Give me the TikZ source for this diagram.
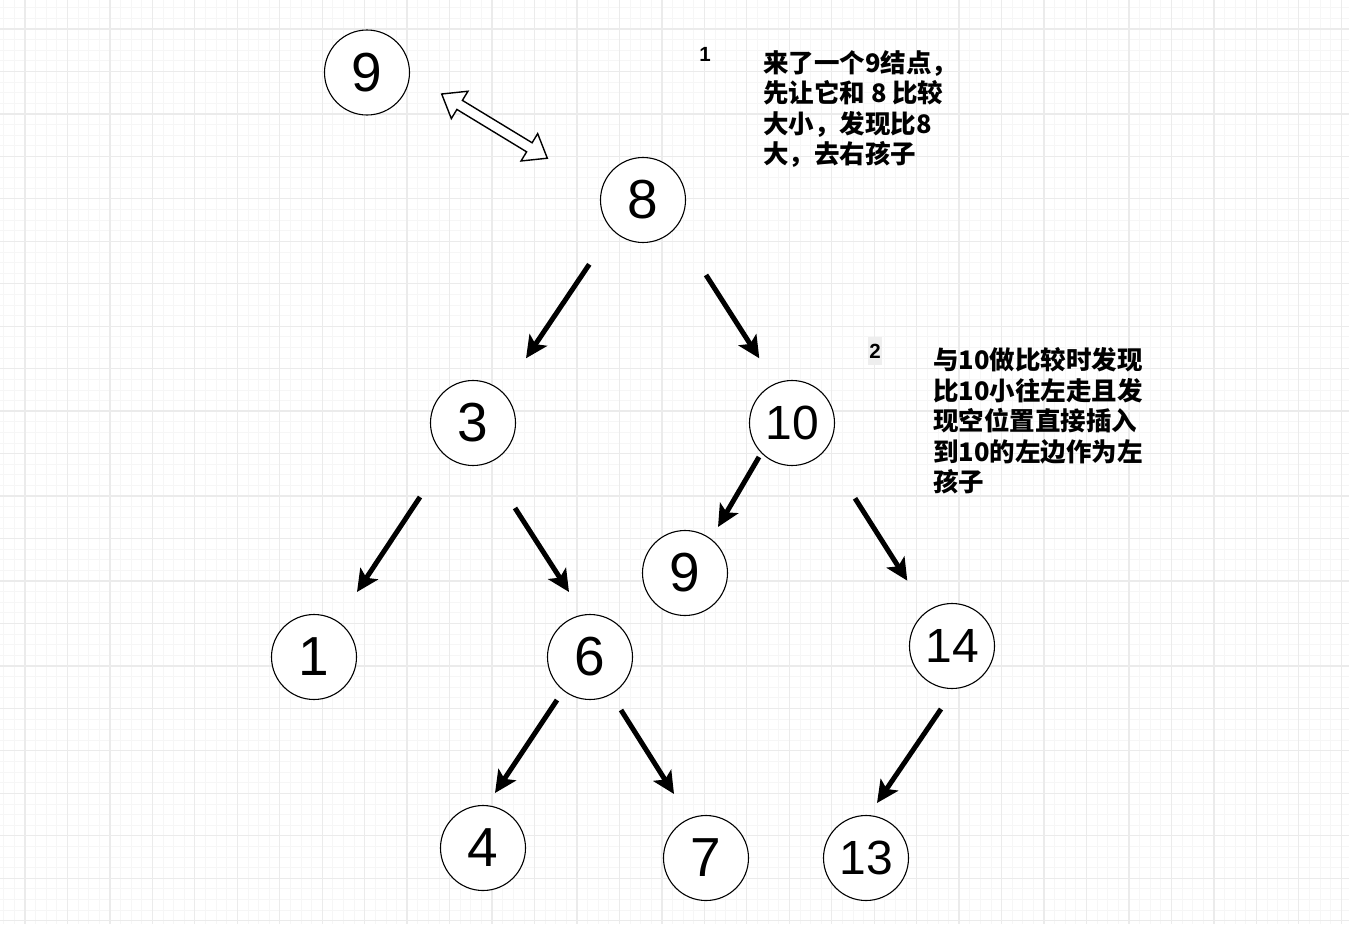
\documentclass[tikz,border=0pt]{standalone}
\usepackage{fontspec}
\setmainfont{Liberation Sans}
\newfontfamily\cjk{Noto Sans CJK SC}
\newfontfamily\labelfont{Liberation Sans Bold}
\usetikzlibrary{arrows.meta}
\definecolor{majorgrid}{HTML}{EBEBEB}
\definecolor{minorgrid}{HTML}{F6F6F6}
\definecolor{labelbg}{HTML}{EEEEEE}
\tikzset{
  minorline/.style={draw=minorgrid, line width=0.8pt},
  majorline/.style={draw=majorgrid, line width=1.3pt},
  numnode/.style={circle, draw=black, line width=1.1pt, fill=white, minimum size=85pt, inner sep=0pt, font=\fontsize{55}{55}\selectfont},
  numnodetwo/.style={numnode, font=\fontsize{48}{48}\selectfont},
  treearrow/.style={draw=black, line width=5pt, -{Stealth[length=22pt, width=21pt, inset=5pt]}},
  stepnum/.style={font=\labelfont\fontsize{20.5}{22}\selectfont, inner sep=0pt},
  note/.style={anchor=north west, align=left, inner sep=0pt, font=\cjk\fontsize{25.5}{30.5}\selectfont\bfseries}
}
\begin{document}
\begin{tikzpicture}[x=1pt, y=-1pt]
\useasboundingbox (0,0) rectangle (1349,924);
\fill[white] (0,0) rectangle (1349,924);
\begin{scope}
\clip (0,0) rectangle (1349,924);
\foreach \i in {-3,...,125} {
  \pgfmathsetmacro\xx{25+\i*10.615}
  \draw[minorline] (\xx,0) -- (\xx,924);
}
\foreach \i in {-3,...,85} {
  \pgfmathsetmacro\yy{29+\i*10.615}
  \draw[minorline] (0,\yy) -- (1349,\yy);
}
\foreach \i in {0,...,31} {
  \pgfmathsetmacro\xx{25+\i*42.46}
  \draw[majorline] (\xx,0) -- (\xx,924);
}
\foreach \i in {0,...,21} {
  \pgfmathsetmacro\yy{29+\i*42.46}
  \draw[majorline] (0,\yy) -- (1349,\yy);
}
\end{scope}

% nodes
\node[numnode] (n9top) at (367,72.5) {9};
\node[numnode] (n8) at (643,200) {8};
\node[numnode] (n3) at (473,423) {3};
\node[numnodetwo] (n10) at (792,423) {10};
\node[numnode] (n9) at (685,573) {9};
\node[numnode] (n1) at (314,657) {1};
\node[numnode] (n6) at (590,657) {6};
\node[numnodetwo] (n14) at (952,646) {14};
\node[numnode] (n4) at (483,848) {4};
\node[numnode] (n7) at (706,858) {7};
\node[numnodetwo] (n13) at (866,858) {13};

% double arrow between new 9 and 8
\begin{scope}[shift={(441.7,94)}, rotate=-31.3]
\draw[line width=1.4pt, fill=white, line join=miter]
  (0,0) -- (21,16) -- (21,5.3) -- (102.6,5.3) -- (102.6,16) -- (123.6,0)
  -- (102.6,-16) -- (102.6,-5.3) -- (21,-5.3) -- (21,-16) -- cycle;
\end{scope}

% arrow end points
\coordinate (s83) at (589.3,264.3);  \coordinate (e83) at (526,358.3);
\coordinate (s810) at (706,275);     \coordinate (e810) at (759.3,358.3);
\coordinate (s31) at (420,497);      \coordinate (e31) at (357,592);
\coordinate (s36) at (515,508);      \coordinate (e36) at (569,592);
\coordinate (s109) at (759,457);     \coordinate (e109) at (718,527);
\coordinate (s1014) at (855,498.3);  \coordinate (e1014) at (907.3,580.7);
\coordinate (s64) at (557,700);      \coordinate (e64) at (495,793);
\coordinate (s67) at (621,710);      \coordinate (e67) at (674,794);
\coordinate (s1413) at (941,709);    \coordinate (e1413) at (877,803);

\draw[treearrow] (s83) -- (e83);
\draw[treearrow] (s810) -- (e810);
\draw[treearrow] (s31) -- (e31);
\draw[treearrow] (s36) -- (e36);
\draw[treearrow] (s109) -- (e109);
\draw[treearrow] (s1014) -- (e1014);
\draw[treearrow] (s64) -- (e64);
\draw[treearrow] (s67) -- (e67);
\draw[treearrow] (s1413) -- (e1413);

% step labels and notes
\node[stepnum] (step1) at (705,54) {1};
\node[stepnum, fill=labelbg, inner xsep=1.5pt, minimum height=28pt] (step2) at (875,351) {2};
\node[note] (note1) at (763,50) {来了一个9结点，\\先让它和 8 比较\\大小，发现比8\\大，去右孩子};
\node[note] (note2) at (933,347.5) {与10做比较时发现\\比10小往左走且发\\现空位置直接插入\\到10的左边作为左\\孩子};
\end{tikzpicture}
\end{document}
